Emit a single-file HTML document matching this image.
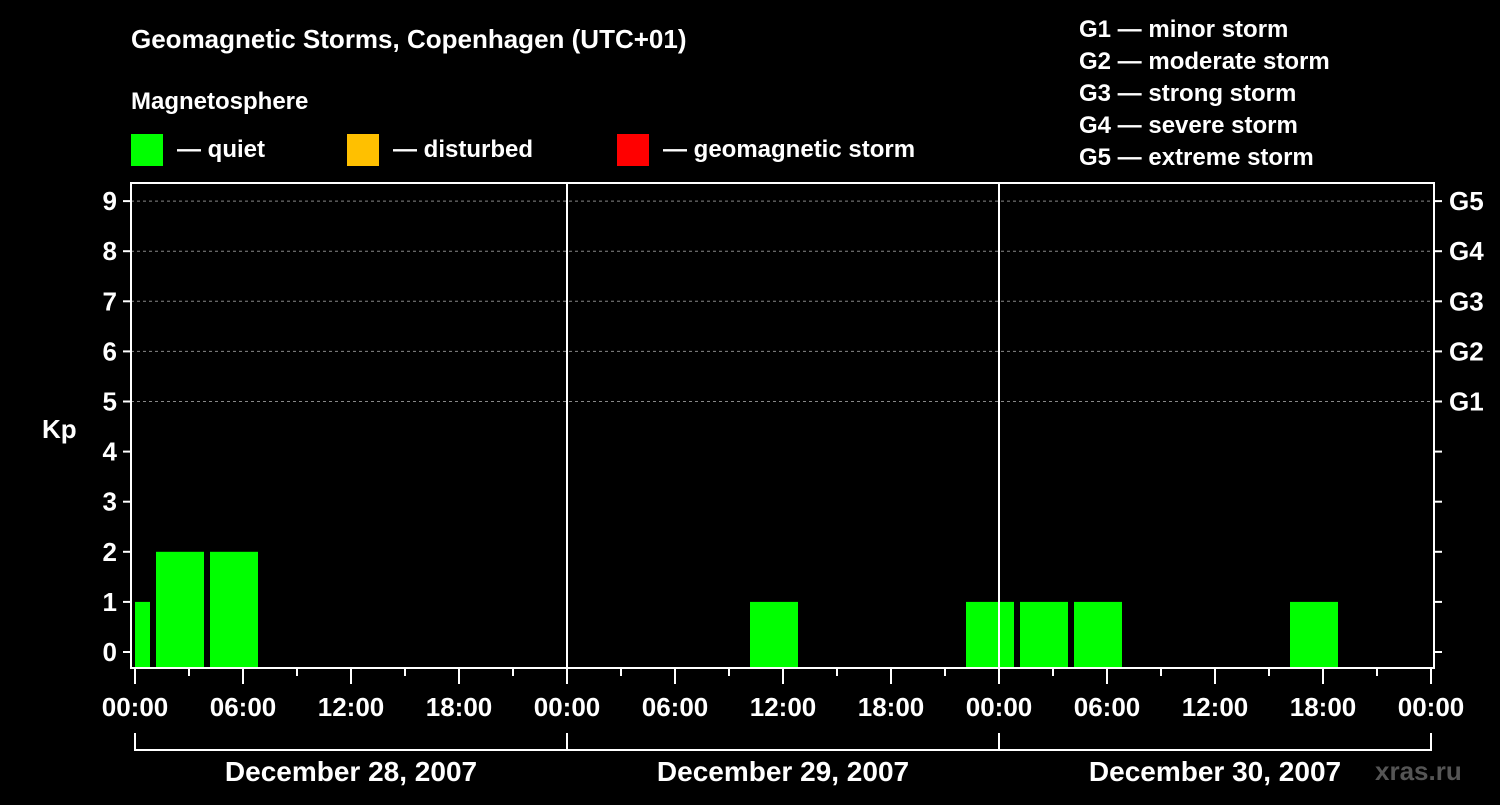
<!DOCTYPE html>
<html><head><meta charset="utf-8"><style>
body{margin:0;background:#000;width:1500px;height:800px;overflow:hidden}
svg text{font-family:"Liberation Sans",Arial,sans-serif;font-weight:bold;fill:#fff}
</style></head><body>
<svg id="chart" width="1500" height="800" xmlns="http://www.w3.org/2000/svg">
<text x="131" y="48" font-size="26">Geomagnetic Storms, Copenhagen (UTC+01)</text>
<text x="131" y="109" font-size="24">Magnetosphere</text>
<g>
<rect x="131" y="134" width="32" height="32" fill="#00ff00"/>
<text x="177" y="157" font-size="24">— quiet</text>
<rect x="347" y="134" width="32" height="32" fill="#ffc000"/>
<text x="393" y="157" font-size="24">— disturbed</text>
<rect x="617" y="134" width="32" height="32" fill="#ff0000"/>
<text x="663" y="157" font-size="24">— geomagnetic storm</text>
</g>
<g font-size="24">
<text x="1079" y="37">G1 — minor storm</text>
<text x="1079" y="69">G2 — moderate storm</text>
<text x="1079" y="101">G3 — strong storm</text>
<text x="1079" y="133">G4 — severe storm</text>
<text x="1079" y="165">G5 — extreme storm</text>
</g>
<text x="42" y="438" font-size="26">Kp</text>
<text x="1375" y="780" font-size="26" fill="#555" style="fill:#555">xras.ru</text>
<g id="grid"></g>
<g id="bars"></g>
<g id="axes"></g>
</svg>
<script>
const kpValues=[1,2,2,0,0,0,0,0, 0,0,0,0,1,0,0,0, 1,1,1,0,0,0,1,0];
const intervalStartHours=[-2,1,4,7,10,13,16,19,22,25,28,31,34,37,40,43,46,49,52,55,58,61,64,67];
const dayLabels=["December 28, 2007","December 29, 2007","December 30, 2007"];
const yTicks=[0,1,2,3,4,5,6,7,8,9];
const gLabels=["G1","G2","G3","G4","G5"];
const hourLabels=["00:00","06:00","12:00","18:00"];
const NS="http://www.w3.org/2000/svg";
const L=131,R=1434,T=183,B=668,X0=135,PXH=18;
const xs=h=>X0+h*PXH;
const ys=v=>652-v*50.1;
function mk(tag,attrs,parent){const e=document.createElementNS(NS,tag);for(const k in attrs)e.setAttribute(k,attrs[k]);parent.appendChild(e);return e;}
const grid=document.getElementById('grid'),bars=document.getElementById('bars'),axes=document.getElementById('axes');
// grid lines
for(let v=5;v<=9;v++){const l=mk('line',{x1:L,x2:R,y1:ys(v),y2:ys(v),stroke:'#888','stroke-dasharray':'3,3','stroke-width':1},grid);

}
// bars
const clip=mk('clipPath',{id:'pc'},grid);mk('rect',{x:L+4,y:T,width:R-L-4,height:B-T},clip);
bars.setAttribute('clip-path','url(#pc)');
kpValues.forEach((v,i)=>{if(v<=0)return;const h=intervalStartHours[i];
const b=mk('rect',{x:xs(h)+3,y:ys(v),width:48,height:B-1-ys(v),fill:'#00ff00'},bars);

});
// frame
const f=mk('rect',{x:L,y:T,width:R-L,height:B-T,fill:'none',stroke:'#fff','stroke-width':2},axes);


// day separators
for(let d=1;d<3;d++){const l=mk('line',{x1:xs(24*d),x2:xs(24*d),y1:T,y2:B,stroke:'#fff','stroke-width':2},axes);

}
// y ticks
yTicks.forEach(v=>{const y=ys(v);
mk('line',{x1:L-8,x2:L,y1:y,y2:y,stroke:'#fff','stroke-width':2},axes);
mk('line',{x1:R,x2:R+8,y1:y,y2:y,stroke:'#fff','stroke-width':2},axes);
const t=mk('text',{x:L-14,y:y+9,'font-size':26,'text-anchor':'end'},axes);t.textContent=v;

});
gLabels.forEach((g,i)=>{const t=mk('text',{x:R+15,y:ys(5+i)+9,'font-size':26},axes);t.textContent=g;

});
// x ticks
for(let h=0;h<=72;h+=3){const x=xs(h);const major=h%6===0;
mk('line',{x1:x,x2:x,y1:B,y2:B+(major?16:8),stroke:'#fff','stroke-width':2},axes);
if(major){const t=mk('text',{x:x,y:B+48,'font-size':26,'text-anchor':'middle'},axes);t.textContent=hourLabels[(h/6)%4];

}}
// day brackets
dayLabels.forEach((d,i)=>{const x1=xs(24*i),x2=xs(24*(i+1));
mk('path',{d:`M${x1},733V750H${x2}V733`,stroke:'#fff','stroke-width':2,fill:'none'},axes);
const t=mk('text',{x:(x1+x2)/2,y:781,'font-size':28,'text-anchor':'middle'},axes);t.textContent=d;

});
</script>
</body></html>
